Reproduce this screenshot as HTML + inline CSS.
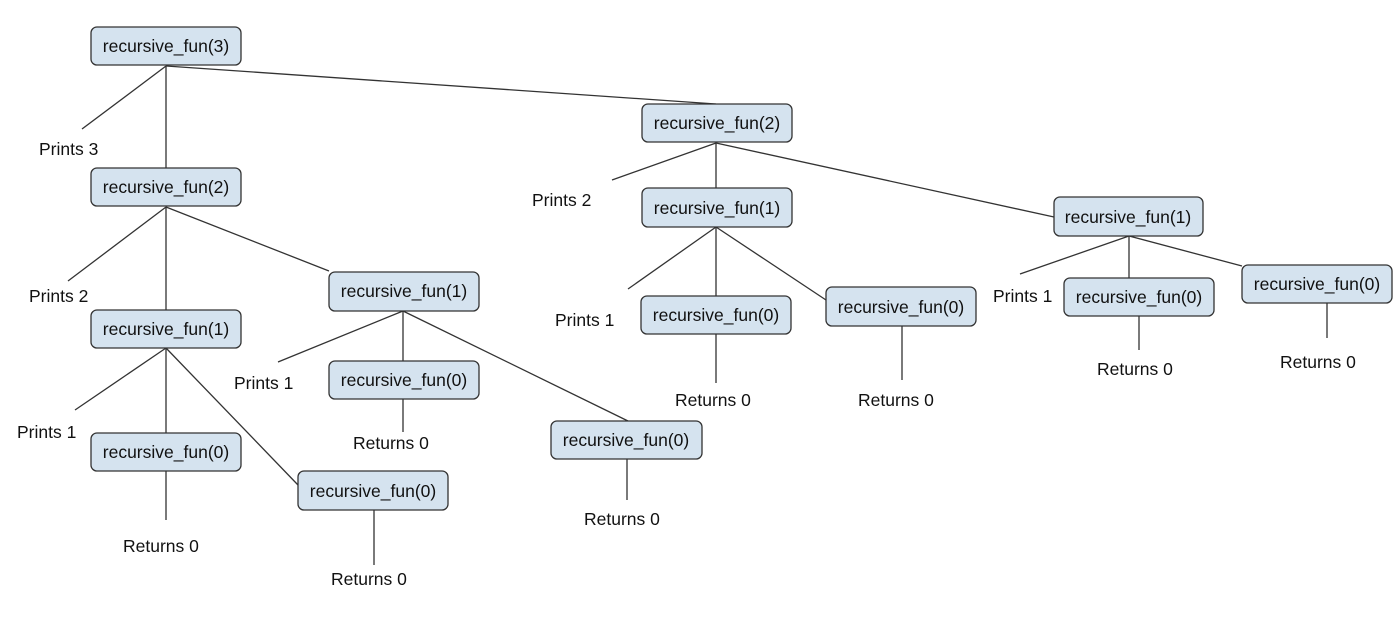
<!DOCTYPE html>
<html><head><meta charset="utf-8"><style>
body{margin:0;background:#fff;}
svg{display:block;}
text{font-family:"Liberation Sans",Arial,sans-serif;font-size:17.5px;fill:#111;}
rect{fill:#d5e3ef;stroke:#333;stroke-width:1.3;}
line{stroke:#333;stroke-width:1.3;}
</style></head><body>
<svg width="1400" height="621" viewBox="0 0 1400 621">
<line x1="166" y1="66" x2="82" y2="129"/>
<line x1="166" y1="66" x2="166" y2="168"/>
<line x1="166" y1="66" x2="716" y2="104"/>
<line x1="166" y1="207" x2="68" y2="281"/>
<line x1="166" y1="207" x2="166" y2="310"/>
<line x1="166" y1="207" x2="329" y2="271"/>
<line x1="166" y1="348" x2="75" y2="410"/>
<line x1="166" y1="348" x2="166" y2="433"/>
<line x1="166" y1="348" x2="298" y2="485"/>
<line x1="166" y1="471" x2="166" y2="520"/>
<line x1="374" y1="510" x2="374" y2="565"/>
<line x1="403" y1="311" x2="278" y2="362"/>
<line x1="403" y1="311" x2="403" y2="361"/>
<line x1="403" y1="311" x2="628" y2="421"/>
<line x1="403" y1="399" x2="403" y2="432"/>
<line x1="627" y1="459" x2="627" y2="500"/>
<line x1="716" y1="143" x2="612" y2="180"/>
<line x1="716" y1="143" x2="716" y2="188"/>
<line x1="716" y1="143" x2="1054" y2="217"/>
<line x1="716" y1="227" x2="628" y2="289"/>
<line x1="716" y1="227" x2="716" y2="296"/>
<line x1="716" y1="227" x2="826" y2="300"/>
<line x1="716" y1="334" x2="716" y2="383"/>
<line x1="902" y1="326" x2="902" y2="380"/>
<line x1="1129" y1="236" x2="1020" y2="274"/>
<line x1="1129" y1="236" x2="1129" y2="278"/>
<line x1="1129" y1="236" x2="1242" y2="266"/>
<line x1="1139" y1="316" x2="1139" y2="350"/>
<line x1="1327" y1="303" x2="1327" y2="338"/>
<g>
<rect x="91" y="27" width="150" height="38" rx="6"/>
<rect x="91" y="168" width="150" height="38" rx="6"/>
<rect x="91" y="310" width="150" height="38" rx="6"/>
<rect x="91" y="433" width="150" height="38" rx="6"/>
<rect x="298" y="471" width="150" height="39" rx="6"/>
<rect x="329" y="272" width="150" height="39" rx="6"/>
<rect x="329" y="361" width="150" height="38" rx="6"/>
<rect x="551" y="421" width="151" height="38" rx="6"/>
<rect x="642" y="104" width="150" height="38" rx="6"/>
<rect x="642" y="188" width="150" height="39" rx="6"/>
<rect x="641" y="296" width="150" height="38" rx="6"/>
<rect x="826" y="287" width="150" height="39" rx="6"/>
<rect x="1054" y="197" width="149" height="39" rx="6"/>
<rect x="1064" y="278" width="150" height="38" rx="6"/>
<rect x="1242" y="265" width="150" height="38" rx="6"/>
</g>
<g text-anchor="middle">
<text x="166" y="52">recursive_fun(3)</text>
<text x="166" y="193">recursive_fun(2)</text>
<text x="166" y="335">recursive_fun(1)</text>
<text x="166" y="458">recursive_fun(0)</text>
<text x="373" y="497">recursive_fun(0)</text>
<text x="404" y="297">recursive_fun(1)</text>
<text x="404" y="386">recursive_fun(0)</text>
<text x="626" y="446">recursive_fun(0)</text>
<text x="717" y="129">recursive_fun(2)</text>
<text x="717" y="214">recursive_fun(1)</text>
<text x="716" y="321">recursive_fun(0)</text>
<text x="901" y="313">recursive_fun(0)</text>
<text x="1128" y="223">recursive_fun(1)</text>
<text x="1139" y="303">recursive_fun(0)</text>
<text x="1317" y="290">recursive_fun(0)</text>
</g>
<g>
<text x="39" y="155">Prints 3</text>
<text x="29" y="302">Prints 2</text>
<text x="17" y="438">Prints 1</text>
<text x="234" y="389">Prints 1</text>
<text x="532" y="206">Prints 2</text>
<text x="555" y="326">Prints 1</text>
<text x="993" y="302">Prints 1</text>
<text x="123" y="552">Returns 0</text>
<text x="331" y="585">Returns 0</text>
<text x="353" y="449">Returns 0</text>
<text x="584" y="525">Returns 0</text>
<text x="675" y="406">Returns 0</text>
<text x="858" y="406">Returns 0</text>
<text x="1097" y="375">Returns 0</text>
<text x="1280" y="368">Returns 0</text>
</g>
</svg>
</body></html>
